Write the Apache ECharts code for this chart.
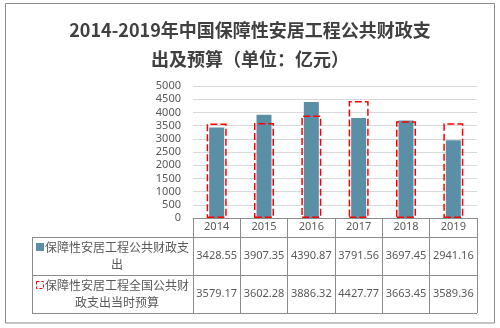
<!DOCTYPE html>
<html><head><meta charset="utf-8">
<script src="https://cdn.jsdelivr.net/npm/echarts@6/dist/echarts.min.js"></script>
<style>html,body{margin:0;padding:0;background:#fff}#c{width:500px;height:328px}</style>
</head><body><div id="c"></div>
<script>
const years = ['2014','2015','2016','2017','2018','2019'];
const spending = [3428.55, 3907.35, 4390.87, 3791.56, 3697.45, 2941.16];
const budget = [3579.17, 3602.28, 3886.32, 4427.77, 3663.45, 3589.36];
const seriesNames = ['保障性安居工程公共财政支出', '保障性安居工程全国公共财政支出当时预算'];
const yTicks = {min: 0, max: 5000, interval: 500};
const titleText = '2014-2019年中国保障性安居工程公共财政支\n出及预算（单位：亿元）';

const FONT = 'Noto Sans CJK SC';
const NUMFONT = 'Noto Sans';
const GRAY = '#595959';
const LINE = '#8c8c8c';
const chart = echarts.init(document.getElementById('c'), null, {renderer: 'canvas'});

function fmt(v){ return v.toFixed(2); }

const hiddenCat = {type:'category', data: years, show:false, boundaryGap:true};
const numLabel = {interval:0, color: GRAY, fontSize: 11, fontFamily: NUMFONT};
chart.setOption({
  animation: false,
  textStyle: {fontFamily: FONT},
  title: {
    text: titleText, left: 'center', top: 11,
    textStyle: {fontSize: 18, fontWeight: 'bold', color: '#404040', lineHeight: 29, fontFamily: FONT}
  },
  grid: {left: 193, right: 23, top: 86, bottom: 110, containLabel: false},
  xAxis: [
    {type:'category', data: years, boundaryGap:true,
     axisLine:{show:true, lineStyle:{color: LINE, width:1}},
     axisTick:{show:true, interval:0, length:95, lineStyle:{color: LINE}},
     axisLabel:Object.assign({margin: 3}, numLabel)},
    Object.assign({}, hiddenCat),
    {type:'category', data: spending.map(fmt), boundaryGap:true, position:'bottom', offset: 26,
     axisLine:{show:false}, axisTick:{show:false},
     axisLabel:Object.assign({margin: 6}, numLabel)},
    {type:'category', data: budget.map(fmt), boundaryGap:true, position:'bottom', offset: 64,
     axisLine:{show:false}, axisTick:{show:false},
     axisLabel:Object.assign({margin: 6}, numLabel)}
  ],
  yAxis: {
    type:'value', min: yTicks.min, max: yTicks.max, interval: yTicks.interval,
    axisLine:{show:false}, axisTick:{show:false},
    axisLabel:{color: GRAY, fontSize: 11, margin: 12, fontFamily: NUMFONT, formatter: v => String(v)},
    splitLine:{lineStyle:{color:'#d9d9d9', width:1}}
  },
  series: [
    {name: seriesNames[0], type:'bar', xAxisIndex:0, data: spending, barWidth: 15,
     itemStyle:{color:'#5b8fa6'}, z: 2},
    {name: seriesNames[1], type:'bar', xAxisIndex:1, data: budget, barWidth: 20,
     itemStyle:{color:'rgba(0,0,0,0)', borderColor:'#ff0000', borderWidth:1.5, borderType:[7,3]}, z: 3}
  ]
});

// data-table frame and legend column
const x0 = 32, xR = 477;
const yH = 237, y1 = 275, y2 = 313;
const ls = {stroke: LINE, lineWidth: 1};
chart.setOption({
  graphic: [
    {type:'rect', shape:{x:5.5, y:3.5, width:489, height:319.5}, style:{fill:'none', stroke:'#8c8c8c', lineWidth:1}, silent:true},
    {type:'line', shape:{x1:x0, y1:yH+0.5, x2:xR, y2:yH+0.5}, style:ls, silent:true},
    {type:'line', shape:{x1:x0, y1:y1+0.5, x2:xR, y2:y1+0.5}, style:ls, silent:true},
    {type:'line', shape:{x1:x0, y1:y2+0.5, x2:xR, y2:y2+0.5}, style:ls, silent:true},
    {type:'line', shape:{x1:x0+0.5, y1:yH, x2:x0+0.5, y2:y2+1}, style:ls, silent:true},
    {type:'rect', shape:{x:36, y:243, width:8, height:8}, style:{fill:'#5b8fa6'}, silent:true},
    {type:'rect', shape:{x:36.5, y:281.5, width:7, height:7}, style:{fill:'none', stroke:'#ff0000', lineWidth:1, lineDash:[3,2]}, silent:true},
    {type:'text', x:117, y:256, style:{text:'保障性安居工程公共财政支\n出', align:'center', verticalAlign:'middle', lineHeight:17, fontSize:12, fontFamily:FONT, fill:GRAY}, silent:true},
    {type:'text', x:117, y:294, style:{text:'保障性安居工程全国公共财\n政支出当时预算', align:'center', verticalAlign:'middle', lineHeight:17, fontSize:12, fontFamily:FONT, fill:GRAY}, silent:true}
  ]
});
</script>
</body></html>
